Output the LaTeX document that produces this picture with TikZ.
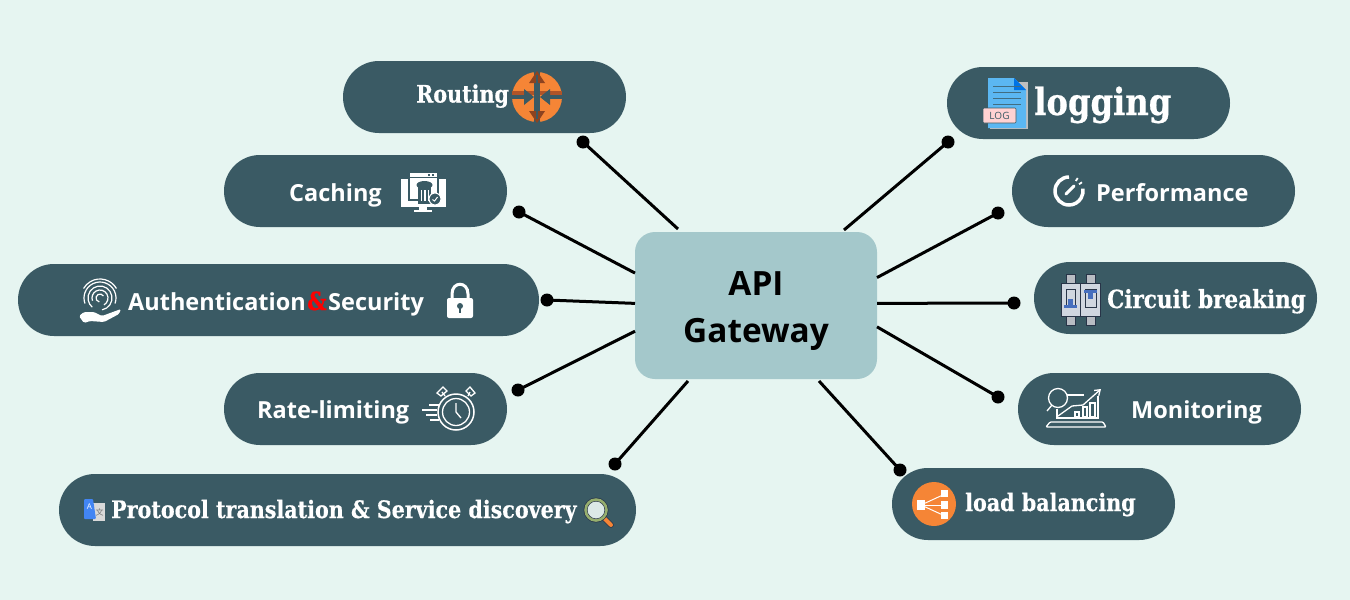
\documentclass[tikz,border=0pt]{standalone}
\usepackage{fontspec}
\usetikzlibrary{arrows.meta}
\newfontfamily\sansface{Open Sans}
\newfontfamily\serifface[FakeStretch=0.86, BoldFeatures={FakeBold=0.5}]{DejaVu Serif}
\newfontfamily\cjkface{Noto Sans CJK SC}
\definecolor{bgcustom}{RGB}{230,245,241}
\definecolor{pillcustom}{RGB}{58,90,100}
\definecolor{hubcustom}{RGB}{164,200,203}
\definecolor{orangecustom}{RGB}{245,133,54}
\definecolor{darkorange}{RGB}{176,84,40}
\definecolor{blueicon}{RGB}{91,183,242}
\definecolor{googleblue}{RGB}{66,133,244}
\definecolor{breakergray}{RGB}{208,214,224}
\definecolor{breakerdark}{RGB}{40,52,72}
\definecolor{breakerblue}{RGB}{70,110,190}
\definecolor{lensgreen}{RGB}{150,175,110}
\tikzset{
    pill/.style={draw=none, fill=pillcustom, rectangle, rounded corners=35.9pt, minimum width=283pt, minimum height=72pt, inner sep=0pt},
    sanstext/.style={text=white, inner sep=0pt, anchor=base west, font=\sansface\bfseries\fontsize{#1}{#1}\selectfont},
    seriftext/.style={text=white, inner sep=0pt, anchor=base west, font=\serifface\bfseries\fontsize{#1}{#1}\selectfont},
    endpoint/.style={circle, fill=black, minimum size=13pt, inner sep=0pt},
    spoke/.style={black, line width=3pt},
    iconline/.style={white, line width=1.3pt}
}
\begin{document}
\begin{tikzpicture}[x=1pt, y=-1pt]
        % Background and page size
        \useasboundingbox (0,0) rectangle (1350,600);
        \fill[bgcustom] (0,0) rectangle (1350,600);

        % Central box
        \node[fill=hubcustom, rectangle, rounded corners=20pt, minimum width=242pt, minimum height=147pt, inner sep=0pt, outer sep=0pt] (hub) at (756,305.5) {};
        \node[inner sep=0pt, align=center, font=\sansface\bfseries\fontsize{33.4}{47}\selectfont] (hub-text) at (756,311) {API\\Gateway};

        % Left pills
        \node[pill] (routing) at (484.5,97) {};
        \node[pill] (caching) at (365.5,191) {};
        \node[pill, minimum width=521pt] (auth) at (278.5,300) {};
        \node[pill] (rate) at (365.5,409) {};
        \node[pill, minimum width=577pt] (protocol) at (347.5,510) {};

        % Right pills
        \node[pill] (logging) at (1088.5,103) {};
        \node[pill] (performance) at (1153.5,191) {};
        \node[pill] (circuit) at (1175.5,298) {};
        \node[pill] (monitoring) at (1159.5,409) {};
        \node[pill] (balancing) at (1033.5,504) {};

        % Labels
        \node[seriftext=24] (routing-text) at (416,102.5) {Routing};
        \node[sanstext=23.5] (caching-text) at (289,201) {Caching};
        \node[sanstext=23.5] (auth-text) at (128,310) {Authentication};
        \node[text=red, inner sep=0pt, anchor=base west, font=\serifface\bfseries\fontsize{25}{25}\selectfont] (auth-amp) at (307,310) {\&};
        \node[sanstext=23.5] (security-text) at (328,310) {Security};
        \node[sanstext=23.5] (rate-text) at (257,418) {Rate-limiting};
        \node[seriftext=24] (protocol-text) at (111,518) {Protocol translation \& Service discovery};
        \node[seriftext=37.5] (logging-text) at (1034,115) {logging};
        \node[sanstext=23.5] (performance-text) at (1096,201) {Performance};
        \node[seriftext=25] (circuit-text) at (1107,308) {Circuit breaking};
        \node[sanstext=23.5] (monitoring-text) at (1131,418) {Monitoring};
        \node[seriftext=24] (balancing-text) at (965,511) {load balancing};

        % Free ends of the spokes
        \node[endpoint] (dot-routing) at (583,142) {};
        \node[endpoint] (dot-caching) at (519,212) {};
        \node[endpoint] (dot-auth) at (547,300) {};
        \node[endpoint] (dot-rate) at (518,390) {};
        \node[endpoint] (dot-protocol) at (615,464) {};
        \node[endpoint] (dot-logging) at (948,142) {};
        \node[endpoint] (dot-performance) at (998,213) {};
        \node[endpoint] (dot-circuit) at (1014,303) {};
        \node[endpoint] (dot-monitoring) at (998,397) {};
        \node[endpoint] (dot-balancing) at (900,470) {};

        % These spokes stop short of the central box
        \coordinate (gap-routing) at (678,229);
        \coordinate (gap-protocol) at (688,381);
        \coordinate (gap-logging) at (844,230);
        \coordinate (gap-balancing) at (819,381);

        % Spokes from the central box
        \draw[spoke] (gap-routing) -- (dot-routing.center);
        \draw[spoke] (hub.165) -- (dot-caching.center);
        \draw[spoke] (hub.179) -- (dot-auth.center);
        \draw[spoke] (hub.192) -- (dot-rate.center);
        \draw[spoke] (gap-protocol) -- (dot-protocol.center);
        \draw[spoke] (gap-logging) -- (dot-logging.center);
        \draw[spoke] (hub.13) -- (dot-performance.center);
        \draw[spoke] (hub.1.2) -- (dot-circuit.center);
        \draw[spoke] (hub.-10) -- (dot-monitoring.center);
        \draw[spoke] (gap-balancing) -- (dot-balancing.center);

        % Routing icon
        \fill[orangecustom] (537,97) circle (25);
        \fill[darkorange] (512,91) rectangle (562,95);
        \fill[pillcustom] (534,72) rectangle (540,122);
        \fill[pillcustom] (512,95) rectangle (524,99);
        \fill[pillcustom] (550,95) rectangle (562,99);
        \fill[pillcustom] (524,89) -- (534,97) -- (524,105) -- cycle;
        \fill[pillcustom] (550,89) -- (540,97) -- (550,105) -- cycle;
        \fill[darkorange!80!black] (529,83) -- (537,71) -- (545,83) -- cycle;
        \fill[darkorange!80!black] (529,111) -- (537,123) -- (545,111) -- cycle;
        \draw[pillcustom, line width=2.5pt] (537,75) -- (537,119);

        % Caching icon
        \fill[white] (401,179) rectangle (446,207);
        \fill[white] (419,207) rectangle (427,210);
        \fill[white] (414,210) rectangle (432,211.5);
        \draw[pillcustom, line width=1.2pt, fill=white] (409,172) rectangle (438,200);
        \fill[pillcustom] (409,177) rectangle (438,178);
        \fill[pillcustom] (428,174) rectangle (430,175.5);
        \fill[pillcustom] (432,174) rectangle (434,175.5);
        \fill[pillcustom] (418,187) rectangle (431,204);
        \fill[pillcustom] (424.5,185) ellipse (8 and 4);
        \foreach \barx in {420.5,424,427.5} {\fill[white] (\barx,190) rectangle ++(1.5,11);}
        \draw[white, line width=1pt, fill=pillcustom] (435,199) circle (6);
        \draw[white, line width=1pt] (432.5,199.5) -- (434.5,201) -- (437.5,197);

        % Authentication icons
        \foreach \rad/\from/\to in {4/-30/-260,8/60/-200,12/80/-230,16/20/-200,19/-30/-150} {\draw[iconline, line width=1.2pt] (100,298) ++(\from:\rad) arc (\from:\to:\rad);}
        \fill[white, rounded corners=1.5pt] (94,312) -- (102,316) -- (121,309) -- (119,314) -- (104,322) -- (90,321) -- (84,323) -- (79,316) -- (84,312) -- cycle;
        \fill[white, rounded corners=2pt] (447,298) rectangle (473,318);
        \draw[white, line width=3pt] (452,300) -- (452,294) .. controls (452,281) and (468,281) .. (468,294) -- (468,300);
        \fill[pillcustom] (460,306) circle (3);
        \fill[pillcustom] (458.8,306) rectangle (461.2,313);

        % Rate limiting icon
        \draw[iconline, line width=1.5pt] (456,412) circle (18);
        \draw[iconline] (456,412) circle (13.5);
        \draw[iconline] (456,403) -- (456,412) -- (461,418);
        \draw[iconline] (445,396) -- (442,392);
        \draw[iconline] (468,396) -- (470,392);
        \draw[iconline] (437,393) -- (443,387) -- (447,391) -- (441,396) -- cycle;
        \draw[iconline] (466,391) -- (470,387) -- (475,393) -- (471,396) -- cycle;
        \draw[iconline] (429,405) -- (440,405);
        \draw[iconline] (422,410) -- (437,410);
        \draw[iconline] (426,415) -- (437,415);
        \draw[iconline] (430,420) -- (439,420);

        % Protocol icons
        \fill[black!15] (93,503) rectangle (105,521);
        \node[text=black!55, inner sep=0pt, font=\cjkface\fontsize{8}{8}\selectfont] (translate-cjk) at (99.5,512) {文};
        \fill[googleblue, rounded corners=1pt] (84,499) -- (93,499) -- (96,519) -- (84,519) -- cycle;
        \node[text=white, inner sep=0pt, font=\sansface\fontsize{8}{8}\selectfont] (translate-a) at (89.5,507) {A};
        \draw[breakerdark, line width=5.5pt, line cap=round] (604,518) -- (611,525);
        \draw[orangecustom, line width=4pt, line cap=round] (604,518) -- (611,525);
        \fill[breakerdark] (596,510) circle (12.5);
        \fill[lensgreen] (596,510) circle (11.8);
        \draw[breakerdark, line width=0.5pt, fill=bgcustom!90!gray] (596,510) circle (8.8);

        % Logging icon
        \fill[black!25] (990,82) rectangle (1028,129);
        \fill[blueicon] (988,78) -- (1014,78) -- (1026,90) -- (1026,128) -- (988,128) -- cycle;
        \fill[blue!50!cyan!90!black] (1014,78) -- (1026,90) -- (1014,90) -- cycle;
        \foreach \liney in {86,92,98,104} {\draw[pillcustom!80!blueicon, line width=0.8pt] (993,\liney) -- (1021,\liney);}
        \node[draw=pillcustom, fill=pink!70!white, rectangle, rounded corners=1pt, line width=0.6pt, minimum width=33pt, minimum height=15pt, inner sep=0pt, text=pillcustom, font=\sansface\fontsize{10}{10}\selectfont] (log-tag) at (999.5,115.5) {LOG};

        % Performance icon
        \draw[white, line width=3.5pt] (1069,177) arc (-90:-370:14);
        \draw[white, line width=3.5pt] (1076,179) -- (1077.5,180);
        \draw[white, line width=3.5pt] (1080,182.5) -- (1081,184);
        \draw[white, line width=3pt, line cap=round] (1066,194) -- (1074,186);

        % Circuit breaker icon
        \foreach \tabx in {1066,1086} {
            \draw[breakerdark, line width=0.8pt, fill=breakergray!70!gray] (\tabx,274) rectangle ++(9,9);
            \draw[breakerdark, line width=0.8pt, fill=breakergray!70!gray] (\tabx,316) rectangle ++(9,9);
        }
        \draw[breakerdark, line width=0.8pt, fill=breakergray] (1061,283) rectangle (1080,316);
        \draw[breakerdark, line width=0.8pt, fill=breakergray] (1080,283) rectangle (1100,316);
        \draw[breakerdark, line width=0.8pt] (1066,289) rectangle (1075,305);
        \draw[breakerdark, line width=0.8pt] (1085,289) rectangle (1096,307);
        \fill[breakerblue] (1064,305) rectangle (1077,308);
        \fill[breakerblue] (1084,290) rectangle (1097,293);
        \fill[breakerblue] (1068,299) rectangle (1073,305);
        \fill[breakerblue] (1088,293) rectangle (1093,299);

        % Monitoring icon
        \draw[iconline] (1058,398) circle (9.5);
        \draw[iconline] (1052,405) -- (1047,411);
        \draw[iconline] (1067,395) -- (1084,395);
        \draw[iconline] (1057,409) -- (1057,418) -- (1098,418) -- (1098,396);
        \draw[iconline, rounded corners=1pt] (1050,422) -- (1103,422) -- (1106,427) -- (1046,427) -- cycle;
        \draw[iconline, -{Straight Barb[length=5pt,width=7pt]}] (1058,416) -- (1072,406) -- (1083,405) -- (1101,389);
        \draw[iconline] (1075,417) rectangle (1079,412);
        \draw[iconline] (1083,417) rectangle (1087,407);
        \draw[iconline] (1090,417) rectangle (1095,403);

        % Load balancing icon
        \fill[orangecustom] (934,504) circle (22);
        \draw[white, line width=1pt] (921,505) -- (945,494);
        \draw[white, line width=1pt] (921,505) -- (945,505);
        \draw[white, line width=1pt] (921,505) -- (945,516);
        \fill[white] (917,500) rectangle (925,510);
        \fill[white] (941,490) rectangle (948,497);
        \fill[white] (941,501) rectangle (948,509);
        \fill[white] (941,512) rectangle (948,519);
    \end{tikzpicture}
\end{document}
